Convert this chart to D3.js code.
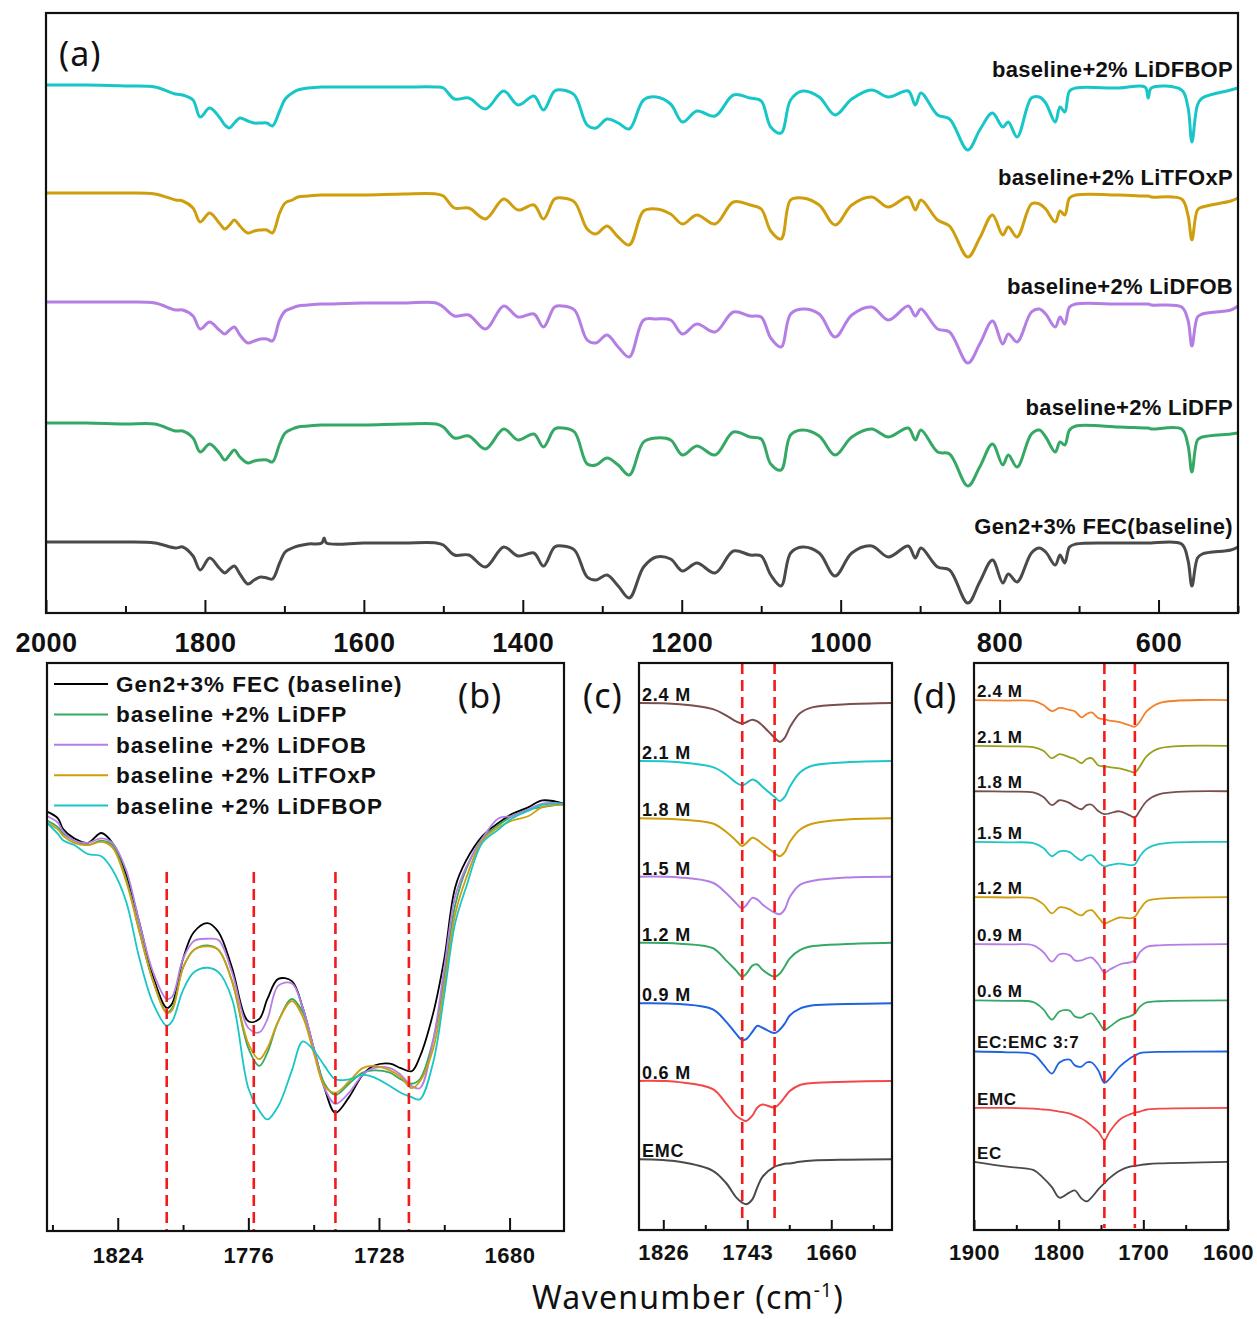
<!DOCTYPE html>
<html>
<head>
<meta charset="utf-8">
<script src="https://cdn.jsdelivr.net/npm/d3@7"></script>
<style>
body { margin: 0; background: #fff; }
</style>
</head>
<body>
<svg id="app" width="1257" height="1319"></svg>
<script>
let svg = d3.select('#app')

const boldFont = "'Liberation Sans', Arial, sans-serif"
const plainFont = "'Noto Sans', 'Open Sans', sans-serif"
const smooth = d3.curveCatmullRom.alpha(0.5)

// ---------- (a) full spectra, relative transmittance (a.u.) ----------
const wnA = [2000, 1950, 1900, 1863, 1837, 1828, 1815, 1806, 1794, 1782,
  1775, 1769, 1763, 1756, 1746, 1738, 1730, 1722, 1715, 1706,
  1699, 1690, 1683, 1670, 1653, 1650, 1647, 1600, 1550, 1509,
  1500, 1486, 1468, 1447, 1424, 1406, 1386, 1374, 1360, 1350,
  1335, 1319, 1308, 1294, 1280, 1266, 1248, 1232, 1214, 1199,
  1181, 1158, 1135, 1114, 1100, 1088, 1075, 1063, 1048, 1027,
  1007, 986, 961, 940, 915, 906, 899, 878, 863, 840,
  825, 809, 796, 789, 778, 760, 750, 742, 730, 724,
  718, 712, 704, 650, 617, 613, 609, 571, 563, 558,
  551, 545, 509, 500]

const aBaseline = [0, 0, 0, -1, -6, -5, -14, -28, -16, -26,
  -31, -27, -24, -32, -42, -38, -35, -36, -37, -21,
  -10, -6, -4, -2, -1, 4, -1, -1, -1, -1,
  -3, -13, -13, -25, -5, -14, -11, -24, -5, -4,
  -8, -35, -38, -33, -44, -56, -25, -15, -17, -29,
  -21, -31, -9, -13, -14, -33, -44, -11, -5, -11,
  -34, -11, -4, -15, -4, -16, -6, -25, -28, -61,
  -40, -18, -41, -32, -40, -11, -6, -10, -23, -13,
  -21, -5, -2, -1, -1, -1, -1, -2, -18, -44,
  -16, -12, -8, -5]

const aLiDFP = [0, 0, -1, -1, -8, -8, -15, -29, -21, -30,
  -37, -32, -27, -34, -40, -38, -37, -37, -39, -21,
  -10, -6, -4, -3, -2, -2, -2, -2, -1, -1,
  -4, -15, -13, -26, -6, -17, -11, -24, -6, -5,
  -9, -41, -42, -35, -42, -52, -19, -15, -17, -32,
  -23, -32, -9, -14, -16, -41, -47, -12, -7, -13,
  -32, -14, -6, -14, -5, -17, -7, -29, -31, -63,
  -44, -21, -42, -32, -44, -11, -7, -14, -29, -19,
  -22, -7, -3, -4, -5, -5, -6, -6, -22, -49,
  -17, -14, -11, -10]

const aLiDFOB = [0, 0, 0, -1, -8, -8, -14, -27, -20, -28,
  -32, -28, -25, -33, -41, -39, -37, -37, -39, -18,
  -9, -6, -4, -3, -2, -2, -2, -1, -1, -1,
  -5, -14, -13, -27, -4, -15, -12, -25, -5, -4,
  -8, -38, -41, -33, -45, -55, -18, -17, -18, -32,
  -22, -30, -10, -14, -15, -36, -45, -12, -7, -12,
  -35, -13, -5, -18, -4, -14, -7, -27, -30, -61,
  -42, -19, -42, -32, -40, -10, -7, -12, -25, -15,
  -22, -5, -2, -2, -2, -2, -3, -5, -18, -44,
  -15, -12, -8, -4]

const aLiTFOxP = [0, 0, 0, -1, -7, -8, -15, -29, -20, -30,
  -36, -32, -27, -33, -40, -38, -37, -37, -40, -20,
  -10, -7, -4, -3, -2, -2, -2, -2, -1, -1,
  -3, -15, -15, -26, -6, -17, -12, -26, -6, -5,
  -9, -36, -41, -33, -44, -52, -18, -16, -21, -31,
  -22, -31, -9, -12, -16, -38, -46, -7, -5, -12,
  -32, -12, -4, -14, -4, -17, -7, -27, -33, -64,
  -45, -22, -42, -34, -44, -11, -11, -16, -29, -18,
  -22, -5, -2, -2, -3, -3, -4, -6, -22, -47,
  -17, -14, -8, -5]

const aLiDFBOP = [0, 0, -1, -2, -9, -10, -15, -32, -23, -32,
  -40, -43, -38, -33, -36, -38, -38, -38, -41, -26,
  -14, -8, -5, -3, -2, -2, -2, -2, -2, -2,
  -3, -14, -13, -24, -6, -20, -11, -25, -6, -5,
  -10, -40, -43, -34, -38, -44, -15, -12, -19, -37,
  -26, -31, -10, -13, -16, -42, -48, -15, -6, -12,
  -30, -14, -5, -12, -6, -20, -8, -30, -34, -65,
  -45, -28, -42, -37, -52, -13, -12, -18, -37, -22,
  -27, -6, -3, -3, -2, -13, -3, -5, -22, -57,
  -20, -13, -5, -3]

const aNames = ['Gen2+3% FEC(baseline)', 'baseline+2% LiDFP', 'baseline+2% LiDFOB', 'baseline+2% LiTFOxP', 'baseline+2% LiDFBOP']
const aOffsets = [71, 190, 311, 420, 528]
const aTicks = [2000, 1800, 1600, 1400, 1200, 1000, 800, 600]
const aMinor = [1900, 1700, 1500, 1300, 1100, 900, 700, 500]

// ---------- (b) C=O region, five electrolytes ----------
const wnB = [1850, 1846, 1844, 1840, 1835, 1830, 1826, 1821, 1816, 1811,
  1806, 1804, 1800, 1796, 1791, 1787, 1782, 1776, 1772, 1769,
  1765, 1760, 1756, 1752, 1748, 1744, 1739, 1734, 1730, 1724,
  1720, 1716, 1713, 1708, 1704, 1700, 1696, 1690, 1684, 1679,
  1673, 1668, 1660]

const bBaseline = [94, 92.5, 90, 88, 87, 89.2, 87, 80, 69, 57,
  50, 51, 61, 67, 69, 67, 59, 47, 47.5, 52,
  56.5, 56, 50, 41, 32, 26.5, 30, 35, 37, 37.5,
  36.5, 35.8, 39, 49, 61, 77, 83, 88.5, 91.5, 93.5,
  95, 96.5, 95.8]
const bLiDFP = [92, 90.5, 89, 87.5, 86.5, 87.5, 86.5, 79, 67, 56,
  49, 50, 59, 63, 64, 63, 56, 41, 37, 40,
  47, 52, 49, 41, 33, 30.5, 33, 35.5, 36, 35.5,
  34, 33, 34, 43, 57, 73, 81, 88, 91, 93,
  94.5, 95, 95.8]
const bLiDFOB = [93, 91.5, 89.5, 87.5, 87, 88, 87, 81, 69, 58,
  52, 52.5, 61, 65, 65.5, 65.2, 58, 45.5, 44.5, 47.5,
  55, 55.5, 50, 41, 32, 28.5, 31, 35, 36.5, 36.5,
  35, 32.5, 32, 43, 59, 75, 81.5, 88, 92.5, 93,
  94.5, 95.8, 95.8]
const bLiTFOxP = [91.5, 90, 88.5, 87, 86.5, 87.2, 86, 78.5, 67, 56,
  48.8, 49.5, 59, 63, 63.8, 63, 56, 42, 38.5, 41,
  47, 51.5, 48, 40, 32.5, 31, 33.5, 36.5, 37, 36,
  34.5, 32, 33.5, 41, 55, 71, 79, 87.5, 90.5, 92,
  93, 95, 95.5]
const bLiDFBOP = [91.5, 89, 87.5, 86.5, 84.5, 84, 81, 74, 61, 51,
  46, 47, 54, 58, 59, 58, 52, 32, 27, 25,
  28, 36, 42.5, 40.5, 37, 34, 34, 35, 34.5, 32.5,
  31, 30, 29.5, 38, 53, 69, 77, 87, 90, 92.5,
  94.2, 95.5, 95.8]

const bNames = ['Gen2+3% FEC (baseline)', 'baseline +2% LiDFP', 'baseline +2% LiDFOB', 'baseline +2% LiTFOxP', 'baseline +2% LiDFBOP']
const bPeaks = [1806, 1774, 1744, 1717]
const bTicks = [1824, 1776, 1728, 1680]
const bMinor = [1848, 1800, 1752, 1704]

// ---------- (c) LiPF6 in EMC, by concentration ----------
const wnC = [1850, 1810, 1777, 1764, 1754, 1748, 1744, 1738, 1733, 1728, 1716, 1711, 1706, 1701, 1691, 1678, 1645, 1600]
const c24 = [0, -0.3, -1.5, -3, -4.5, -5, -4.7, -4.1, -4.5, -5.5, -8.5, -9.5, -8.5, -6, -2.5, -1, -0.3, 0]
const c21 = [0, -0.3, -1.5, -3.3, -5.3, -6, -5.5, -4.5, -5.1, -6.3, -8.8, -9.8, -8.8, -6.3, -2.8, -1.1, -0.3, 0]
const c18 = [0, -0.3, -1.3, -3.3, -5.5, -6.8, -6.1, -4.8, -5.3, -6.3, -8.5, -9.3, -8.3, -5.8, -2.8, -1.3, -0.3, 0]
const c15 = [0, -0.2, -1.5, -4, -6.5, -7.8, -7, -5.2, -5.6, -6.8, -8.8, -9.2, -8, -5, -2, -1, -0.2, 0]
const c12 = [0, -0.2, -1.3, -4.3, -6.8, -8.3, -7.6, -5.6, -5.3, -6.6, -8.3, -7.6, -5.8, -3.8, -1.8, -0.8, -0.3, 0]
const c09 = [0, -0.2, -1.5, -4.5, -7.5, -9, -8.8, -7, -5.5, -6, -7.3, -6.5, -5, -3, -1.3, -0.5, -0.2, 0]
const c06 = [0, -0.3, -2, -5.5, -8.5, -9.5, -9.8, -8.5, -6.5, -5.8, -6.5, -5.5, -4, -2.5, -1, -0.5, -0.2, 0]
const cEMC = [0, -0.6, -2.8, -5.8, -9.3, -10.6, -11, -9.8, -6.8, -4.3, -1.8, -1.4, -1.1, -1, -0.6, -0.3, -0.1, 0]
const cNames = ['2.4 M', '2.1 M', '1.8 M', '1.5 M', '1.2 M', '0.9 M', '0.6 M', 'EMC']
const cOffsets = [129, 114.8, 100.8, 86.5, 70.3, 55.5, 36.5, 17.3]
const cPeaks = [1748, 1716]
const cTicks = [1826, 1743, 1660]
const cMinor = [1784.5, 1701.5, 1618.5]

// ---------- (d) LiPF6 in EC:EMC 3:7, by concentration ----------
const wnD = [1900, 1861, 1830, 1818, 1808, 1799, 1787, 1781, 1773, 1767, 1761, 1753, 1746, 1740, 1728, 1716, 1710, 1704, 1696, 1681, 1600]
const d24 = [0, -0.1, -0.2, -1.2, -2.7, -1.9, -2.4, -2.7, -4.2, -3.4, -3, -4.4, -4.7, -5, -5.4, -6.2, -6.5, -5.2, -2.7, -0.7, 0]
const d21 = [0, -0.1, -0.3, -1.2, -3, -2, -2.8, -3.2, -4.2, -3.2, -3, -4.8, -5, -5.2, -5.5, -6.2, -6.5, -5, -2.5, -0.6, 0]
const d18 = [0, -0.1, -0.3, -1.4, -3.4, -2.2, -2.9, -3.7, -4.4, -3.4, -3.3, -4.9, -5.6, -5.4, -4.9, -5.9, -6.4, -4.7, -2.4, -0.7, 0]
const d15 = [0, -0.1, -0.3, -1.5, -3.5, -2.3, -2.5, -3.5, -4.5, -3.5, -3.3, -5, -6, -5.7, -5.3, -5.7, -5.5, -3.5, -1.7, -0.5, 0]
const d12 = [0, -0.1, -0.3, -1.8, -4, -2.5, -3, -3.8, -4.5, -3.5, -3.2, -5, -6.5, -6, -5, -5.2, -4.8, -3, -1, -0.4, 0]
const d09 = [0, -0.1, -0.3, -2, -4.3, -2.5, -2.7, -4, -4, -3.5, -3.3, -5, -7, -6.3, -5, -4.5, -4, -2, -0.7, -0.3, 0]
const d06 = [0, -0.1, -0.4, -2.2, -4.7, -2.7, -2.5, -3.9, -4.2, -3.5, -3.2, -5.2, -7.2, -6.5, -4.7, -3.9, -3.2, -1.5, -0.5, -0.2, 0]
const dECEMC = [0, -0.2, -0.7, -3.2, -5.4, -2.7, -2, -3.4, -3.7, -2.7, -2.7, -4.7, -7.7, -6.7, -3.7, -1.7, -1, -0.4, -0.2, -0.1, 0]
const dEMC = [0, 0, -0.2, -0.4, -0.6, -0.9, -1.4, -1.9, -2.6, -3.4, -4.4, -5.9, -7.9, -5.9, -2.9, -1.6, -1.2, -0.9, -0.4, -0.2, 0]
const dEC = [0, -1.2, -2, -4, -6.2, -8.8, -7.5, -7, -9, -9.7, -8.7, -6.7, -5.2, -4, -2.2, -1.2, -1, -0.8, -0.6, -0.4, 0]
const dNames = ['2.4 M', '2.1 M', '1.8 M', '1.5 M', '1.2 M', '0.9 M', '0.6 M', 'EC:EMC 3:7', 'EMC', 'EC']
const dOffsets = [129.7, 118.5, 107.4, 95, 81.5, 70, 56.2, 43.7, 29.9, 16.7]
const dPeaks = [1746, 1710]
const dTicks = [1900, 1800, 1700, 1600]
const dMinor = [1850, 1750, 1650]

// ---------- helpers ----------
function frame(x, y) {
  svg.append('rect')
    .attr('x', x.range()[0])
    .attr('y', y.range()[1])
    .attr('width', x.range()[1] - x.range()[0])
    .attr('height', y.range()[0] - y.range()[1])
    .attr('fill', 'none')
    .attr('stroke', '#111')
    .attr('stroke-width', 2.2)
}

function bottomAxis(x, yb, major, minor, majLen, minLen, pad, fs) {
  let g = svg.append('g').attr('transform', `translate(0,${yb})`)
  g.call(d3.axisBottom(x).tickValues(major).tickSize(-majLen).tickPadding(pad).tickFormat(d3.format('d')))
  let g2 = svg.append('g').attr('transform', `translate(0,${yb})`)
  g2.call(d3.axisBottom(x).tickValues(minor).tickSize(-minLen).tickFormat(''))
  ;[g, g2].forEach(a => {
    a.select('.domain').remove()
    a.selectAll('line').attr('stroke', '#111').attr('stroke-width', 2)
  })
  g.selectAll('text')
    .attr('font-family', boldFont)
    .attr('font-weight', 'bold')
    .attr('font-size', fs)
    .attr('letter-spacing', 0.5)
    .attr('fill', '#111')
}

function dashes(x, peaks, y0, y1) {
  svg.append('g').selectAll('line')
    .data(peaks)
    .enter()
    .append('line')
    .attr('x1', d => x(d))
    .attr('x2', d => x(d))
    .attr('y1', y0)
    .attr('y2', y1)
    .attr('stroke', '#f01c1c')
    .attr('stroke-width', 2.6)
    .attr('stroke-dasharray', '11,6')
}

function panelLabel(txt, x, y) {
  svg.append('text')
    .attr('x', x)
    .attr('y', y)
    .attr('font-family', plainFont)
    .attr('font-size', 34)
    .attr('letter-spacing', 1)
    .attr('fill', '#111')
    .text(txt)
}

// ---------- panel (a) ----------
const xA = d3.scaleLinear().domain([2000, 500]).range([46, 1238])
const yA = d3.scaleLinear().domain([0, 600]).range([613, 13])
const aColors = ['#4a4a4a', '#35a865', '#b47ee5', '#cf9e0c', '#18c6c8']
const aSeries = [aBaseline, aLiDFP, aLiDFOB, aLiTFOxP, aLiDFBOP].map((v, i) => ({
  name: aNames[i], vals: v, offset: aOffsets[i], color: aColors[i]
}))

svg.append('g').selectAll('path')
  .data(aSeries)
  .enter()
  .append('path')
  .attr('d', s => d3.line()
    .x((d, i) => xA(wnA[i]))
    .y(d => yA(s.offset + d))
    .curve(smooth)(s.vals))
  .attr('fill', 'none')
  .attr('stroke', s => s.color)
  .attr('stroke-width', 3)
  .attr('stroke-linejoin', 'round')

svg.append('g').selectAll('text')
  .data(aSeries)
  .enter()
  .append('text')
  .attr('x', 1233)
  .attr('y', s => yA(s.offset) - 8)
  .attr('text-anchor', 'end')
  .attr('font-family', boldFont)
  .attr('font-weight', 'bold')
  .attr('font-size', 22)
  .attr('letter-spacing', 0.3)
  .attr('fill', '#111')
  .text(s => s.name)

frame(xA, yA)
bottomAxis(xA, 613, aTicks, aMinor, 13, 7, 20, 27)
panelLabel('(a)', 59, 66)

// ---------- panel (b) ----------
const xB = d3.scaleLinear().domain([1850, 1660]).range([47, 564])
const yB = d3.scaleLinear().domain([0, 127.3]).range([1231, 663])
const bColors = ['#000000', '#35a865', '#b47ee5', '#cf9e0c', '#18c6c8']
const bSeries = [bBaseline, bLiDFP, bLiDFOB, bLiTFOxP, bLiDFBOP].map((v, i) => ({
  name: bNames[i], vals: v, color: bColors[i]
}))

svg.append('g').selectAll('path')
  .data(bSeries)
  .enter()
  .append('path')
  .attr('d', s => d3.line()
    .x((d, i) => xB(wnB[i]))
    .y(d => yB(d))
    .curve(smooth)(s.vals))
  .attr('fill', 'none')
  .attr('stroke', s => s.color)
  .attr('stroke-width', 1.8)

dashes(xB, bPeaks, 872, 1231)

let legend = svg.append('g')
legend.selectAll('line')
  .data(bSeries)
  .enter()
  .append('line')
  .attr('x1', 54)
  .attr('x2', 108)
  .attr('y1', (d, i) => 684 + i * 30.4)
  .attr('y2', (d, i) => 684 + i * 30.4)
  .attr('stroke', d => d.color)
  .attr('stroke-width', 2)
legend.selectAll('text')
  .data(bSeries)
  .enter()
  .append('text')
  .attr('x', 116)
  .attr('y', (d, i) => 684 + i * 30.4 + 8)
  .attr('font-family', boldFont)
  .attr('font-weight', 'bold')
  .attr('font-size', 22.5)
  .attr('letter-spacing', 1)
  .attr('fill', '#111')
  .text(d => d.name)

frame(xB, yB)
bottomAxis(xB, 1231, bTicks, bMinor, 13, 6, 16, 22)
panelLabel('(b)', 458, 708)

// ---------- panel (c) ----------
const xC = d3.scaleLinear().domain([1850, 1600]).range([639, 892])
const yC = d3.scaleLinear().domain([0, 138.8]).range([1230, 663])
const cColors = ['#7b4d4d', '#1fc6c9', '#cf9e0c', '#b47ee5', '#35a865', '#2062e0', '#f24848', '#4a4a4a']
const cSeries = [c24, c21, c18, c15, c12, c09, c06, cEMC].map((v, i) => ({
  name: cNames[i], vals: v, offset: cOffsets[i], color: cColors[i]
}))

svg.append('g').selectAll('path')
  .data(cSeries)
  .enter()
  .append('path')
  .attr('d', s => d3.line()
    .x((d, i) => xC(wnC[i]))
    .y(d => yC(s.offset + d))
    .curve(smooth)(s.vals))
  .attr('fill', 'none')
  .attr('stroke', s => s.color)
  .attr('stroke-width', 2)

svg.append('g').selectAll('text')
  .data(cSeries)
  .enter()
  .append('text')
  .attr('x', 642)
  .attr('y', s => yC(s.offset) - 2)
  .attr('font-family', boldFont)
  .attr('font-weight', 'bold')
  .attr('font-size', 18)
  .attr('letter-spacing', 0.8)
  .attr('fill', '#111')
  .text(s => s.name)

dashes(xC, cPeaks, 663, 1220)
frame(xC, yC)
bottomAxis(xC, 1230, cTicks, cMinor, 10, 5, 14, 22)
panelLabel('(c)', 583, 708)

// ---------- panel (d) ----------
const xD = d3.scaleLinear().domain([1900, 1600]).range([974, 1228])
const yD = d3.scaleLinear().domain([0, 138.8]).range([1230, 663])
const dColors = ['#f5802c', '#98a01c', '#7b4d4d', '#1fc6c9', '#cf9e0c', '#b47ee5', '#35a865', '#2062e0', '#f24848', '#4a4a4a']
const dSeries = [d24, d21, d18, d15, d12, d09, d06, dECEMC, dEMC, dEC].map((v, i) => ({
  name: dNames[i], vals: v, offset: dOffsets[i], color: dColors[i]
}))

svg.append('g').selectAll('path')
  .data(dSeries)
  .enter()
  .append('path')
  .attr('d', s => d3.line()
    .x((d, i) => xD(wnD[i]))
    .y(d => yD(s.offset + d))
    .curve(smooth)(s.vals))
  .attr('fill', 'none')
  .attr('stroke', s => s.color)
  .attr('stroke-width', 1.8)

svg.append('g').selectAll('text')
  .data(dSeries)
  .enter()
  .append('text')
  .attr('x', 977)
  .attr('y', s => yD(s.offset) - 3)
  .attr('font-family', boldFont)
  .attr('font-weight', 'bold')
  .attr('font-size', 17)
  .attr('letter-spacing', 0.6)
  .attr('fill', '#111')
  .text(s => s.name)

dashes(xD, dPeaks, 663, 1228)
frame(xD, yD)
bottomAxis(xD, 1230, dTicks, dMinor, 10, 5, 14, 22)
panelLabel('(d)', 913, 708)

// ---------- shared x title ----------
let title = svg.append('text')
  .attr('x', 688)
  .attr('y', 1309)
  .attr('text-anchor', 'middle')
  .attr('font-family', plainFont)
  .attr('font-size', 32)
  .attr('letter-spacing', 1.2)
  .attr('fill', '#111')
title.append('tspan').text('Wavenumber (cm')
title.append('tspan').attr('font-size', 19).attr('dy', -12).text('-1')
title.append('tspan').attr('dy', 12).text(')')
</script>
</body>
</html>
